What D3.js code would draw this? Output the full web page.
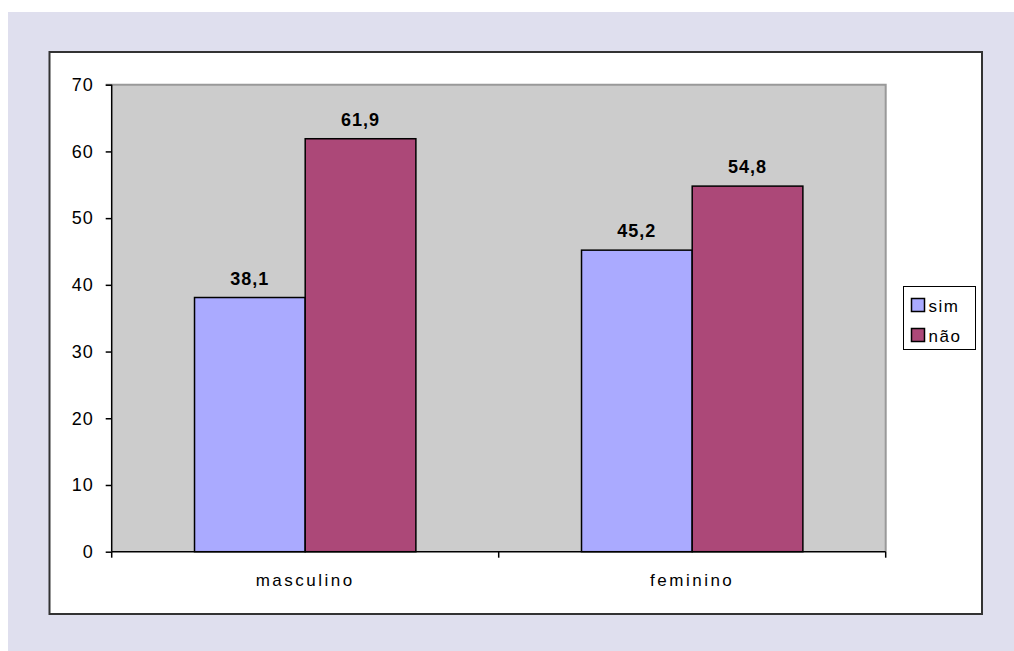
<!DOCTYPE html>
<html>
<head>
<meta charset="utf-8">
<script src="https://cdn.jsdelivr.net/npm/d3@7"></script>
<style>
  html, body { margin: 0; padding: 0; background: #ffffff; }
  svg { display: block; }
  text { font-family: "Liberation Sans", Arial, sans-serif; }
</style>
</head>
<body>
<svg id="chart" width="1014" height="651"></svg>
<script>
// Data
const categories = ["masculino", "feminino"];
const seriesNames = ["sim", "não"];
const simValues = [38.1, 45.2];
const naoValues = [61.9, 54.8];
const yTicks = [0, 10, 20, 30, 40, 50, 60, 70];
const seriesColors = ["#aaaaff", "#ac4878"];

const svg = d3.select("#chart");

// Page background panel and chart frame
svg.append("rect").attr("x", 8).attr("y", 12).attr("width", 1006).attr("height", 639).attr("fill", "#dfdfee");
svg.append("rect").attr("x", 49.5).attr("y", 52).attr("width", 932.5).attr("height", 562)
  .attr("fill", "#ffffff").attr("stroke", "#333333").attr("stroke-width", 2);

// Plot area
const plot = { left: 111.7, right: 885.7, top: 84.7, bottom: 551.7 };

const x = d3.scaleBand().domain(categories).range([plot.left, plot.right]).paddingInner(0).paddingOuter(0);
const y = d3.scaleLinear().domain([0, 70]).range([plot.bottom, plot.top]);
const groupWidth = x.bandwidth() * 0.572;
const xs = d3.scaleBand().domain(seriesNames).range([0, groupWidth]);

svg.append("rect").attr("x", plot.left).attr("y", plot.top)
  .attr("width", plot.right - plot.left).attr("height", plot.bottom - plot.top)
  .attr("fill", "#cccccc");
// gray border on top and right of the plot
svg.append("path")
  .attr("d", `M${plot.left - 6},${plot.top} H${plot.right} V${plot.bottom}`)
  .attr("fill", "none").attr("stroke", "#999999").attr("stroke-width", 2);

// Bars
const rows = categories.map((c, i) => ({ cat: c, values: [simValues[i], naoValues[i]] }));
const groups = svg.append("g").selectAll("g").data(rows).join("g")
  .attr("transform", d => `translate(${x(d.cat) + (x.bandwidth() - groupWidth) / 2},0)`);

groups.selectAll("rect").data(d => d.values.map((v, j) => ({ name: seriesNames[j], v, j })))
  .join("rect")
  .attr("x", d => xs(d.name))
  .attr("y", d => y(d.v))
  .attr("width", xs.bandwidth())
  .attr("height", d => y(0) - y(d.v))
  .attr("fill", d => seriesColors[d.j])
  .attr("stroke", "#000000").attr("stroke-width", 1.5);

groups.selectAll("text").data(d => d.values.map((v, j) => ({ name: seriesNames[j], v, j })))
  .join("text")
  .attr("x", d => xs(d.name) + xs.bandwidth() / 2)
  .attr("y", d => y(d.v) - 13)
  .attr("text-anchor", "middle")
  .attr("font-size", 18).attr("font-weight", "bold").attr("fill", "#000")
  .attr("letter-spacing", 1)
  .text(d => d.v.toFixed(1).replace(".", ","));

// Y axis
const yAxis = d3.axisLeft(y).tickValues(yTicks).tickSize(6).tickPadding(12).tickFormat(d3.format("d"));
const gy = svg.append("g").attr("transform", `translate(${plot.left},0)`).call(yAxis);
gy.select(".domain").attr("stroke", "#000").attr("stroke-width", 1.5).attr("d", `M0,${plot.top}V${plot.bottom}`);
gy.selectAll(".tick line").attr("stroke", "#000").attr("stroke-width", 1.5);
gy.selectAll(".tick text").attr("font-size", 18).attr("fill", "#000").attr("letter-spacing", 1)
  .style("font-family", "'Liberation Sans', Arial, sans-serif");

// X axis: ticks at category boundaries, labels at centers
const gx = svg.append("g");
gx.append("line").attr("x1", plot.left).attr("x2", plot.right)
  .attr("y1", y(0)).attr("y2", y(0)).attr("stroke", "#000").attr("stroke-width", 1.5);
const bounds = categories.map(c => x(c)).concat([x(categories[categories.length - 1]) + x.bandwidth()]);
gx.selectAll("line.tk").data(bounds).join("line").attr("class", "tk")
  .attr("x1", d => d).attr("x2", d => d)
  .attr("y1", y(0)).attr("y2", y(0) + 6)
  .attr("stroke", "#000").attr("stroke-width", 1.5);
gx.selectAll("text").data(categories).join("text")
  .attr("x", d => x(d) + x.bandwidth() / 2)
  .attr("y", y(0) + 34)
  .attr("text-anchor", "middle").attr("font-size", 17).attr("fill", "#000")
  .attr("letter-spacing", 2.5)
  .text(d => d);

// Legend
const legend = svg.append("g").attr("transform", "translate(903.5,286.5)");
legend.append("rect").attr("x", 0).attr("y", 0).attr("width", 72).attr("height", 63)
  .attr("fill", "#ffffff").attr("stroke", "#000").attr("stroke-width", 1);
const items = legend.selectAll("g").data(seriesNames).join("g")
  .attr("transform", (d, i) => `translate(8,${12 + i * 30})`);
items.append("rect").attr("width", 13).attr("height", 13)
  .attr("fill", (d, i) => seriesColors[i]).attr("stroke", "#000").attr("stroke-width", 1.5);
items.append("text").attr("x", 17).attr("y", 13)
  .attr("font-size", 17).attr("fill", "#000").attr("letter-spacing", 1.5).text(d => d);
</script>
</body>
</html>
